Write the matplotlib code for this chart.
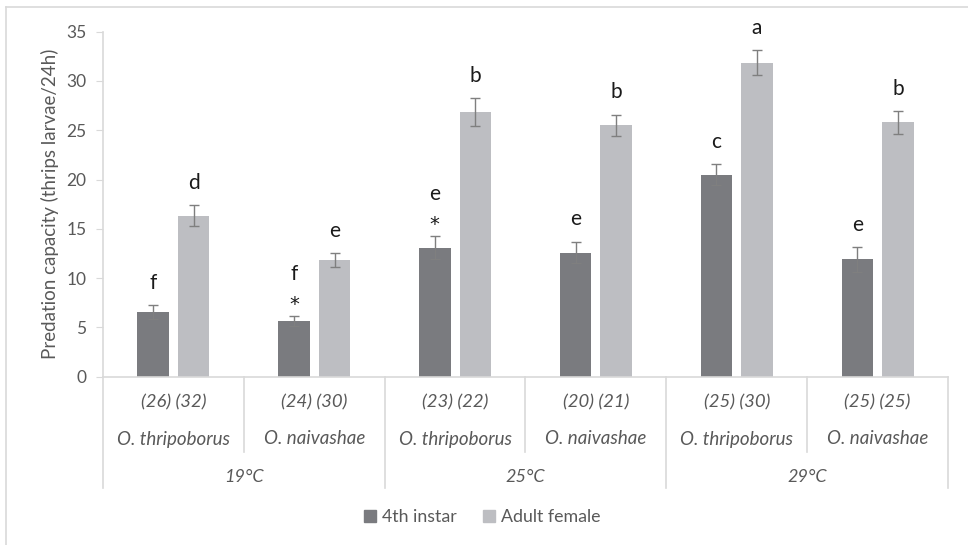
import matplotlib.pyplot as plt
import numpy as np
from matplotlib.patches import Patch
from matplotlib.lines import Line2D

plt.rcParams['font.family'] = ['Lato', 'DejaVu Sans']

# data
species = ['O. thripoborus', 'O. naivashae'] * 3
counts = ['(26) (32)', '(24) (30)', '(23) (22)', '(20) (21)', '(25) (30)', '(25) (25)']
temps = ['19°C', '25°C', '29°C']

instar4 = [6.6, 5.65, 13.1, 12.6, 20.5, 11.9]
instar4_err = [0.7, 0.55, 1.2, 1.1, 1.05, 1.25]
adult = [16.35, 11.8, 26.85, 25.5, 31.85, 25.8]
adult_err = [1.05, 0.7, 1.4, 1.1, 1.25, 1.15]

instar4_letters = ['f', 'f', 'e', 'e', 'c', 'e']
adult_letters = ['d', 'e', 'b', 'b', 'a', 'b']
instar4_star = [False, True, True, False, False, False]

dark = '#7a7b7f'
light = '#bdbec2'
txt = '#595959'
grid_c = '#d9d9d9'
mark_c = '#1a1a1a'

fig = plt.figure(figsize=(9.68, 5.45), dpi=100)
ax = fig.add_axes([103 / 968, 1 - 376.7 / 545, (948 - 103) / 968, (376.7 - 31.7) / 545])

x = np.arange(len(species))
w = 0.224
off = 0.144
err_kw = dict(ecolor='#7f7f7f', elinewidth=1, capsize=3.8, capthick=1)
ax.bar(x - off, instar4, w, color=dark, yerr=instar4_err, error_kw=err_kw, zorder=2)
ax.bar(x + off, adult, w, color=light, yerr=adult_err, error_kw=err_kw, zorder=2)

# significance letters
for i in range(len(x)):
    top = instar4[i] + instar4_err[i]
    letter_off = 16
    if instar4_star[i]:
        ax.annotate('*', (x[i] - off, top), xytext=(0, 8), textcoords='offset points',
                    ha='center', va='center', fontsize=14, color=mark_c,
                    family='DejaVu Sans')
        letter_off = 30
    ax.annotate(instar4_letters[i], (x[i] - off, top), xytext=(0, letter_off),
                textcoords='offset points', ha='center', va='center',
                fontsize=15, color=mark_c)
    ax.annotate(adult_letters[i], (x[i] + off, adult[i] + adult_err[i]), xytext=(0, 16),
                textcoords='offset points', ha='center', va='center',
                fontsize=15, color=mark_c)

ax.set_xlim(-0.5, 5.5)
ax.set_ylim(0, 35)
ax.set_yticks(range(0, 36, 5))
ax.tick_params(axis='y', labelsize=12.5, labelcolor=txt, color=grid_c, length=5, pad=7)
ax.set_xticks([])
for s in ['top', 'right']:
    ax.spines[s].set_visible(False)
for s in ['left', 'bottom']:
    ax.spines[s].set_color(grid_c)
    ax.spines[s].set_linewidth(1.2)
ax.set_ylabel('Predation capacity (thrips larvae/24h)', fontsize=13.5, color=txt, labelpad=5)

# multi-level category axis
px = 1 / 345.0  # axes fraction per pixel vertically
for i in range(len(x)):
    ax.text(x[i], -25.3 * px, counts[i], transform=ax.get_xaxis_transform(),
            ha='center', va='center', fontsize=13.3, style='italic', color=txt)
    ax.text(x[i], -62.3 * px, species[i], transform=ax.get_xaxis_transform(),
            ha='center', va='center', fontsize=13.5, style='italic', color=txt)
for j, t in enumerate(temps):
    ax.text(2 * j + 0.5, -99.8 * px, t, transform=ax.get_xaxis_transform(),
            ha='center', va='center', fontsize=13, style='italic', color=txt)
for b in np.arange(-0.5, 6, 1):
    depth = 111 if (b + 0.5) % 2 == 0 else 75
    ax.add_line(Line2D([b, b], [0, -depth * px], transform=ax.get_xaxis_transform(),
                       color=grid_c, lw=1.2, clip_on=False))

# chart area border
fig.add_artist(Line2D([6 / 968, 6 / 968], [0, 1 - 7 / 545], color=grid_c, lw=1.2))
fig.add_artist(Line2D([6 / 968, 1], [1 - 7 / 545, 1 - 7 / 545], color=grid_c, lw=1.2))

handles = [Patch(color=dark, label='4th instar'), Patch(color=light, label='Adult female')]
leg = fig.legend(handles=handles, loc='center', bbox_to_anchor=(482 / 968, 1 - 517 / 545),
                 ncol=2, frameon=False, fontsize=12.8, handlelength=0.7, handleheight=0.7,
                 handletextpad=0.3, columnspacing=1.5)
for t in leg.get_texts():
    t.set_color(txt)

fig.savefig('out.png', dpi=100)
